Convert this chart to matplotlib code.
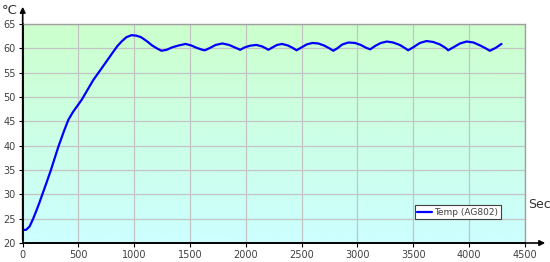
import matplotlib
matplotlib.use("Agg")
import matplotlib.pyplot as plt
import numpy as np

sec = [0, 30, 62, 92, 122, 150, 173, 212, 250, 320, 370, 409, 450, 528, 633, 720, 812,
       850, 886, 930, 976, 1020, 1060, 1111, 1160, 1210, 1245, 1290, 1340, 1400, 1460,
       1510, 1560, 1610, 1634, 1680, 1730, 1790, 1850, 1900, 1950, 1990, 2040, 2095,
       2145, 2180, 2201, 2240, 2280, 2325, 2375, 2420, 2455, 2500, 2545, 2595, 2650,
       2700, 2750, 2784, 2820, 2865, 2920, 2980, 3030, 3080, 3115, 3160, 3210, 3265,
       3320, 3380, 3430, 3455, 3500, 3560, 3620, 3680, 3740, 3790, 3814, 3860, 3920,
       3980, 4040, 4100, 4150, 4187, 4240, 4292]
temp = [22.7, 22.7, 23.4, 24.9, 26.6, 28.3, 29.8, 32.3, 34.8, 39.8, 43.0, 45.3, 46.9,
        49.4, 53.5, 56.3, 59.3, 60.5, 61.4, 62.3, 62.7, 62.6, 62.3, 61.5, 60.6, 59.9,
        59.5, 59.7, 60.2, 60.6, 60.9, 60.6, 60.1, 59.7, 59.6, 60.1, 60.7, 61.0, 60.7,
        60.2, 59.7, 60.2, 60.55, 60.7, 60.4, 60.0, 59.7, 60.2, 60.7, 60.9, 60.6, 60.1,
        59.6, 60.2, 60.8, 61.1, 61.0, 60.6, 60.0, 59.5, 60.0, 60.8, 61.2, 61.1, 60.7,
        60.1, 59.8, 60.5, 61.1, 61.4, 61.2, 60.7, 60.0, 59.6, 60.2, 61.1, 61.5, 61.3,
        60.8, 60.1, 59.6, 60.2, 61.0, 61.4, 61.2, 60.6, 60.0, 59.5, 60.1, 60.9]
series_label = "Temp (AG802)"
x_ticks = [0, 500, 1000, 1500, 2000, 2500, 3000, 3500, 4000, 4500]
y_ticks = [20, 25, 30, 35, 40, 45, 50, 55, 60, 65]

fig = plt.figure(figsize=(5.5, 2.62), dpi=100)
L, R, T, B = 22.7/550, 524.7/550, 1-24/262, 1-243/262
ax = fig.add_axes([L, B, R-L, T-B])
ax.set_xlim(0, 4500)
ax.set_ylim(20, 65)

# gradient background
grad = np.linspace(0, 1, 256).reshape(-1, 1)
top = np.array([204, 255, 204]) / 255
bot = np.array([204, 255, 255]) / 255
img = top[None, None, :] * (1 - grad[:, :, None]) + bot[None, None, :] * grad[:, :, None]
ax.imshow(img, extent=[0, 4500, 20, 65], aspect='auto', zorder=0, origin='upper')

ax.grid(True, color='#c4c4c4', linewidth=0.9, zorder=1)
ax.set_axisbelow(True)
ax.plot(sec, temp, color='#0000ff', linewidth=1.6, label=series_label, zorder=3,
        solid_joinstyle='round', solid_capstyle='round')

ax.set_xticks(x_ticks)
ax.set_yticks(y_ticks)
ax.tick_params(axis='both', labelsize=7, labelcolor='#404040', length=3, width=0.8, color='black', pad=2)
for s in ['top', 'right']:
    ax.spines[s].set_color('#a0a0a0')
    ax.spines[s].set_linewidth(1)
for s in ['left', 'bottom']:
    ax.spines[s].set_color('black')
    ax.spines[s].set_linewidth(1.2)

# axis arrows
fig.add_artist(matplotlib.patches.FancyArrowPatch((L, B), (L, 1-4/262), transform=fig.transFigure,
               arrowstyle='-|>', mutation_scale=8, color='black', linewidth=1.2))
fig.add_artist(matplotlib.patches.FancyArrowPatch((L, B), (548/550, B), transform=fig.transFigure,
               arrowstyle='-|>', mutation_scale=8, color='black', linewidth=1.2))

fig.text(2/550, 1-14/262, "°C", fontsize=9.5, color='#303030', va='baseline', ha='left')
fig.text(528/550, 1-208/262, "Sec", fontsize=9, color='#303030', va='baseline', ha='left')

leg = ax.legend(loc='lower left', bbox_to_anchor=(415/550, 1-219/262), bbox_transform=fig.transFigure,
                fontsize=6.5, handlelength=1.6, handletextpad=0.3, borderpad=0.25,
                fancybox=False, framealpha=1, edgecolor='#404040', borderaxespad=0)
leg.get_frame().set_linewidth(0.8)
for t in leg.get_texts():
    t.set_color('#404040')

fig.savefig("out.png", dpi=100)
